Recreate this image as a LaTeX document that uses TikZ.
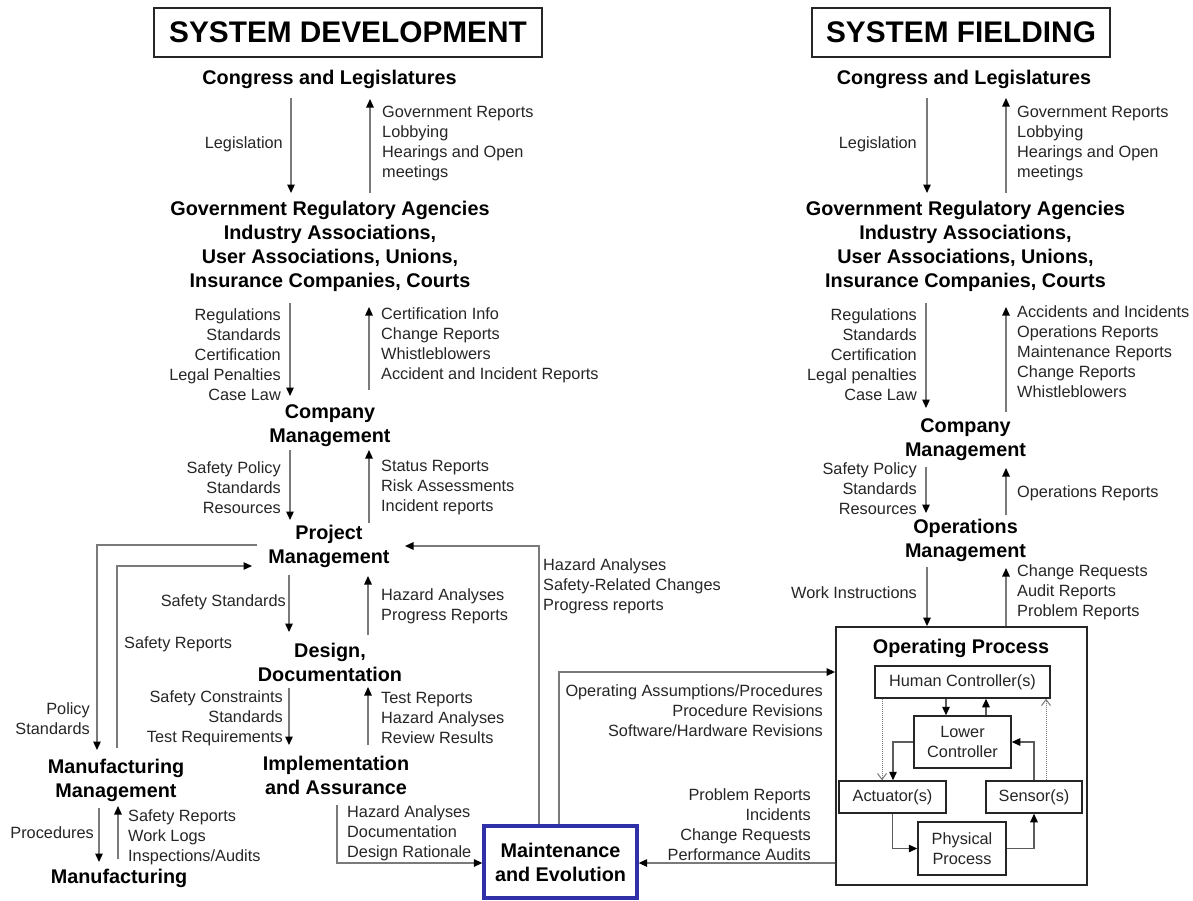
\documentclass[tikz,border=0pt]{standalone}
\usepackage{fontspec}
\setmainfont{Liberation Sans}
\usetikzlibrary{arrows.meta,calc}
\definecolor{linec}{HTML}{7A7A7A}
\definecolor{boxc}{HTML}{262626}
\definecolor{txt}{HTML}{262626}
\definecolor{mblue}{HTML}{3030A8}
\tikzset{
  lbl/.style={font=\fontsize{16.3}{20}\selectfont, text=txt, inner sep=0pt, yshift=-1.8pt},
  lblL/.style={lbl, align=left, anchor=west},
  lblR/.style={lbl, align=right, anchor=east},
  head/.style={font=\fontsize{19.8}{24}\selectfont\bfseries, align=center, inner sep=0pt, text=black, yshift=-1.8pt},
  titlebox/.style={draw=boxc, line width=1.6pt, font=\fontsize{29.8}{34}\selectfont\bfseries, minimum height=49pt, inner sep=0pt},
  arr/.style={draw=linec, line width=1.3pt, -{Triangle[length=8.5pt,width=7.5pt,color=black]}},
  sbox/.style={draw=boxc, line width=1.5pt, font=\fontsize{16.3}{20}\selectfont, align=center, inner sep=0pt, text=txt},
  dotarr/.style={draw=linec, line width=1pt, densely dotted, -{Straight Barb[length=6pt,width=9pt]}}
}
\begin{document}
\begin{tikzpicture}[x=1pt,y=-1pt]
\useasboundingbox (0,0) rectangle (1193,900);
\fill[white] (0,0) rectangle (1193,900);

% ---------------- LEFT: SYSTEM DEVELOPMENT ----------------
\node[titlebox, minimum width=388pt] (t1) at (348,32.5) {SYSTEM DEVELOPMENT};
\node[head] (cong1) at (329.5,78) {Congress and Legislatures};
\node[head] (gov1) at (330,245) {Government Regulatory Agencies\\Industry Associations,\\User Associations, Unions,\\Insurance Companies, Courts};
\node[head] (comp1) at (330,423.5) {Company\\Management};
\node[head] (proj) at (329,545) {Project\\Management};
\node[head] (des) at (330,660.5) {Design,\\Documentation};
\node[head] (impl) at (336,774) {Implementation\\and Assurance};
\node[head] (mm) at (116,778.5) {Manufacturing\\Management};
\node[head] (manuf) at (119,877) {Manufacturing};
\node[head, draw=mblue, line width=3.3pt, minimum width=153pt, minimum height=72pt, yshift=1.8pt] (maint) at (560.5,862) {Maintenance\\and Evolution};

% labels left
\node[lblR] (l1) at (283,142) {Legislation};
\node[lblL] (l2) at (382,142) {Government Reports\\Lobbying\\Hearings and Open\\meetings};
\node[lblR] (l3) at (281,353) {Regulations\\Standards\\Certification\\Legal Penalties\\Case Law};
\node[lblL] (l4) at (381,343.5) {Certification Info\\Change Reports\\Whistleblowers\\Accident and Incident Reports};
\node[lblR] (l5) at (281,486) {Safety Policy\\Standards\\Resources};
\node[lblL] (l6) at (381,486) {Status Reports\\Risk Assessments\\Incident reports};
\node[lblR] (l7) at (286,600) {Safety Standards};
\node[lblL] (l8) at (381,604) {Hazard Analyses\\Progress Reports};
\node[lblL] (l9) at (124,642) {Safety Reports};
\node[lblR] (l10) at (90,717) {Policy\\Standards};
\node[lblR] (l11) at (283,716) {Safety Constraints\\Standards\\Test Requirements};
\node[lblL] (l12) at (381,716) {Test Reports\\Hazard Analyses\\Review Results};
\node[lblR] (l13) at (94,831) {Procedures};
\node[lblL] (l14) at (128,835) {Safety Reports\\Work Logs\\Inspections/Audits};
\node[lblL] (l15) at (347,831.5) {Hazard Analyses\\Documentation\\Design Rationale};
\node[lblL] (l16) at (543,584) {Hazard Analyses\\Safety-Related Changes\\Progress reports};
\node[lblR] (l17) at (823,709) {Operating Assumptions/Procedures\\Procedure Revisions\\Software/Hardware Revisions};
\node[lblR] (l18) at (811,823) {Problem Reports\\Incidents\\Change Requests\\Performance Audits};

% arrow coordinates left
\coordinate (a1s) at (291,98);  \coordinate (a1e) at (291,193);
\coordinate (a2s) at (370,193); \coordinate (a2e) at (370,99);
\coordinate (a3s) at (290,303); \coordinate (a3e) at (290,396);
\coordinate (a4s) at (369,390); \coordinate (a4e) at (369,307);
\coordinate (a5s) at (290,450); \coordinate (a5e) at (290,520);
\coordinate (a6s) at (369,523); \coordinate (a6e) at (369,450);
\coordinate (a7s) at (289,575); \coordinate (a7e) at (289,632);
\coordinate (a8s) at (368,635); \coordinate (a8e) at (368,576);
\coordinate (a9s) at (289,688); \coordinate (a9e) at (289,745);
\coordinate (a10s) at (368,745); \coordinate (a10e) at (368,687);
\coordinate (a11s) at (99,808); \coordinate (a11e) at (99,862);
\coordinate (a12s) at (118,859); \coordinate (a12e) at (118,806);
\coordinate (pmL) at (257,545);  \coordinate (mmT) at (97,750);
\coordinate (mmU) at (117,748);  \coordinate (pmIn) at (252,566);
\coordinate (implD) at (337,805);
\coordinate (pmfb) at (539,546); \coordinate (pmR) at (405,546);
\coordinate (mo) at (559,672);
\coordinate (ob) at (700,863);

\draw[arr] (a1s) -- (a1e);
\draw[arr] (a2s) -- (a2e);
\draw[arr] (a3s) -- (a3e);
\draw[arr] (a4s) -- (a4e);
\draw[arr] (a5s) -- (a5e);
\draw[arr] (a6s) -- (a6e);
\draw[arr] (a7s) -- (a7e);
\draw[arr] (a8s) -- (a8e);
\draw[arr] (a9s) -- (a9e);
\draw[arr] (a10s) -- (a10e);
\draw[arr] (a11s) -- (a11e);
\draw[arr] (a12s) -- (a12e);
\draw[arr] (pmL) -| (mmT);
\draw[arr] (mmU) |- (pmIn);
\draw[arr] (implD) |- (maint.west |- ob);
\draw[arr] (maint.north -| pmfb) -- (pmfb) -- (pmR);

% ---------------- RIGHT: SYSTEM FIELDING ----------------
\node[titlebox, minimum width=298pt] (t2) at (961,32.5) {SYSTEM FIELDING};
\node[head] (cong2) at (964,78) {Congress and Legislatures};
\node[head] (gov2) at (965.5,245) {Government Regulatory Agencies\\Industry Associations,\\User Associations, Unions,\\Insurance Companies, Courts};
\node[head] (comp2) at (965.5,437.5) {Company\\Management};
\node[head] (ops) at (965.5,538.5) {Operations\\Management};

\node[sbox, line width=1.8pt, minimum width=251pt, minimum height=258pt] (opbox) at (961.5,756) {};
\node[head] (optitle) at (961,647) {Operating Process};
\node[sbox, minimum width=175pt, minimum height=32pt] (hc) at (962.5,682) {Human Controller(s)};
\node[sbox, minimum width=97pt, minimum height=52pt] (lc) at (962.5,742) {Lower\\Controller};
\node[sbox, minimum width=107pt, minimum height=32pt] (act) at (892.5,797) {Actuator(s)};
\node[sbox, minimum width=96pt, minimum height=32pt] (sen) at (1034,797) {Sensor(s)};
\node[sbox, minimum width=88pt, minimum height=53pt] (pp) at (962,848.5) {Physical\\Process};

\node[lblR] (r1) at (917,142) {Legislation};
\node[lblL] (r2) at (1017,142) {Government Reports\\Lobbying\\Hearings and Open\\meetings};
\node[lblR] (r3) at (917,353) {Regulations\\Standards\\Certification\\Legal penalties\\Case Law};
\node[lblL] (r4) at (1017,350) {Accidents and Incidents\\Operations Reports\\Maintenance Reports\\Change Reports\\Whistleblowers};
\node[lblR] (r5) at (917,487) {Safety Policy\\Standards\\Resources};
\node[lblL] (r6) at (1017,491) {Operations Reports};
\node[lblR] (r7) at (917,591) {Work Instructions};
\node[lblL] (r8) at (1017,590) {Change Requests\\Audit Reports\\Problem Reports};

\coordinate (b1s) at (927,98);   \coordinate (b1e) at (927,193);
\coordinate (b2s) at (1006,193); \coordinate (b2e) at (1006,98);
\coordinate (b3s) at (926,303);  \coordinate (b3e) at (926,408);
\coordinate (b4s) at (1006,412); \coordinate (b4e) at (1006,307);
\coordinate (b5s) at (926,467);  \coordinate (b5e) at (926,513);
\coordinate (b6s) at (1006,515); \coordinate (b6e) at (1006,468);
\coordinate (b7s) at (927,567);
\coordinate (b8e) at (1006,568);
\coordinate (x946) at (946,0); \coordinate (x986) at (986,0);
\coordinate (x893) at (893,0); \coordinate (x882) at (882,0);
\coordinate (x1046) at (1046,0);

\draw[arr] (b1s) -- (b1e);
\draw[arr] (b2s) -- (b2e);
\draw[arr] (b3s) -- (b3e);
\draw[arr] (b4s) -- (b4e);
\draw[arr] (b5s) -- (b5e);
\draw[arr] (b6s) -- (b6e);
\draw[arr] (b7s) -- (opbox.north -| b7s);
\draw[arr] (opbox.north -| b8e) -- (b8e);

% inner operating process connectors
\draw[arr, draw=boxc!75] (hc.south -| x946) -- (lc.north -| x946);
\draw[arr, draw=boxc!75] (lc.north -| x986) -- (hc.south -| x986);
\draw[arr, draw=boxc!75] (lc.west) -| (x893 |- act.north);
\draw[arr, draw=boxc!75] (sen.north) |- (lc.east);
\draw[arr, draw=boxc!75] (act.south) |- (pp.west);
\draw[arr, draw=boxc!75] (pp.east) -| (sen.south);
\draw[dotarr] (hc.south -| x882) -- (act.north -| x882);
\draw[dotarr] (sen.north -| x1046) -- (hc.south -| x1046);

% links between the halves
\draw[arr] (maint.north -| mo) -- (mo) -- (opbox.west |- mo);
\draw[arr] (opbox.west |- ob) -- (maint.east |- ob);
\end{tikzpicture}
\end{document}
